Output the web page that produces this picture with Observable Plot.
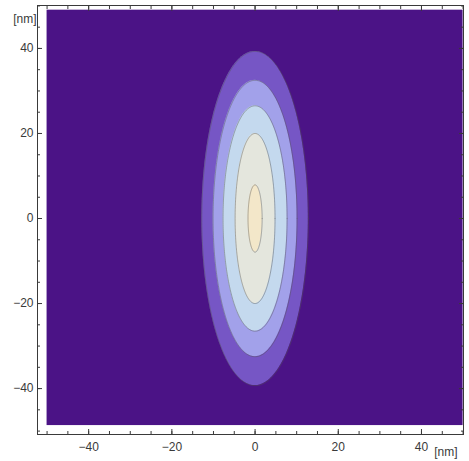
<!DOCTYPE html>
<html>
<head>
<meta charset="utf-8">
<script src="https://cdn.jsdelivr.net/npm/d3@7"></script>
<script src="https://cdn.jsdelivr.net/npm/@observablehq/plot@0.6"></script>
<style>
  html, body { margin: 0; padding: 0; background: #fff; }
  #chart svg { display: block; }
</style>
</head>
<body>
<div id="chart"></div>
<script>
// Data (units: nm)
const xTicks = [-40, -20, 0, 20, 40];
const yTicks = [-40, -20, 0, 20, 40];
const minorTicks = [-50, -45, -40, -35, -30, -25, -20, -15, -10, -5, 0, 5, 10, 15, 20, 25, 30, 35, 40, 45, 50];
const majorTicks = [-40, -20, 0, 20, 40];
const fieldX = [-50, 50];
const fieldY = [-48.7, 49];
// contour levels, outermost to innermost: semi-axes of each closed contour
const contourLevels = [1, 2, 3, 4, 5];
const contourHalfWidth = [12.8, 10.1, 7.7, 4.8, 1.7];
const contourHalfHeight = [39.3, 32.5, 26.5, 20.0, 7.9];
const backgroundColor = "#4B1386";
const contourColors = ["#7656C5", "#A2A1EA", "#C4D9EE", "#E4E6DD", "#F3E7C9"];

const N = 180;
function ellipseArea(a, b) {
  const pts = [];
  for (let i = 0; i <= N; i++) {
    const t = Math.PI * i / N;
    pts.push({x: a * Math.cos(t), y1: -b * Math.sin(t), y2: b * Math.sin(t)});
  }
  return pts;
}
function ellipseLine(a, b) {
  const pts = [];
  for (let i = 0; i <= 2 * N; i++) {
    const t = Math.PI * i / N;
    pts.push({x: a * Math.cos(t), y: b * Math.sin(t)});
  }
  return pts;
}

const fmt = d => d < 0 ? "\u2212" + (-d) : String(d);
const ink = "#3a3a3a";
const font = "'Liberation Sans', Arial, sans-serif";

const marks = [
  Plot.rect([{x1: fieldX[0], x2: fieldX[1], y1: fieldY[0], y2: fieldY[1]}],
    {x1: "x1", x2: "x2", y1: "y1", y2: "y2", fill: backgroundColor})
];
contourLevels.forEach((lvl, i) => {
  marks.push(Plot.areaY(ellipseArea(contourHalfWidth[i], contourHalfHeight[i]),
    {x: "x", y1: "y1", y2: "y2", fill: contourColors[i]}));
  marks.push(Plot.line(ellipseLine(contourHalfWidth[i], contourHalfHeight[i]),
    {x: "x", y: "y", stroke: "#555", strokeOpacity: 0.45, strokeWidth: 1}));
});

// ticks (inward) on all four sides
for (const anchor of ["bottom", "top"]) {
  marks.push(Plot.axisX(minorTicks, {anchor, tickSize: -3, tickFormat: () => "", stroke: ink}));
  marks.push(Plot.axisX(majorTicks, {anchor, tickSize: -5, tickFormat: () => "", stroke: ink}));
}
for (const anchor of ["left", "right"]) {
  marks.push(Plot.axisY(minorTicks, {anchor, tickSize: -3, tickFormat: () => "", stroke: ink}));
  marks.push(Plot.axisY(majorTicks, {anchor, tickSize: -5, tickFormat: () => "", stroke: ink}));
}
// labels
marks.push(Plot.axisX(xTicks, {anchor: "bottom", tickSize: 0, tickPadding: 8, tickFormat: fmt, fontSize: 12, fill: ink}));
marks.push(Plot.axisY(yTicks, {anchor: "left", tickSize: 0, tickPadding: 4, tickFormat: fmt, fontSize: 12, fill: ink}));
marks.push(Plot.frame({stroke: ink}));
marks.push(Plot.text(["[nm]"], {frameAnchor: "top-left", text: d => d, textAnchor: "end", lineAnchor: "middle", dx: -1, dy: 14, fontSize: 12, fill: ink}));
marks.push(Plot.text(["[nm]"], {frameAnchor: "bottom-right", text: d => d, textAnchor: "end", lineAnchor: "middle", dx: -6, dy: 18, fontSize: 12, fill: ink}));

const chart = Plot.plot({
  width: 469,
  height: 461,
  marginLeft: 37,
  marginRight: 6,
  marginTop: 5,
  marginBottom: 27,
  style: {fontFamily: font, background: "#fff"},
  x: {domain: [-52.3, 50.1], axis: null},
  y: {domain: [-50.8, 50.1], axis: null},
  marks
});
document.getElementById("chart").appendChild(chart);
</script>
</body>
</html>
